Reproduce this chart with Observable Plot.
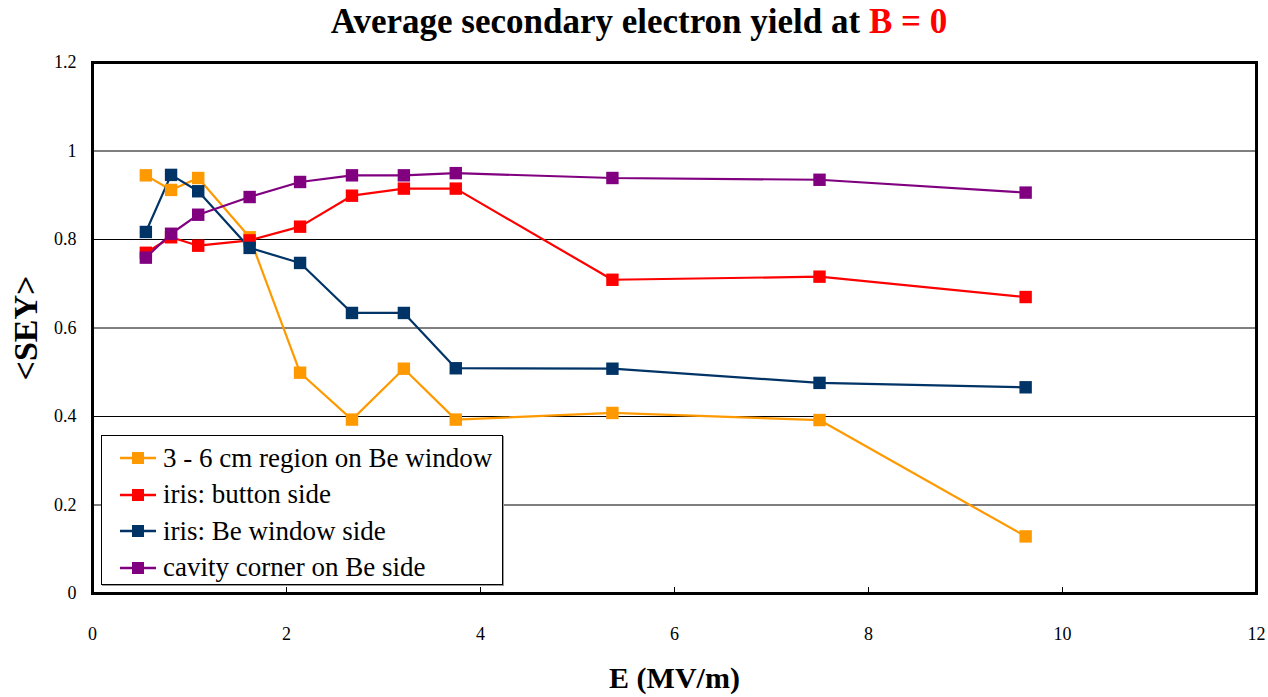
<!DOCTYPE html>
<html>
<head>
<meta charset="utf-8">
<script src="https://cdn.jsdelivr.net/npm/d3@7"></script>
<script src="https://cdn.jsdelivr.net/npm/@observablehq/plot@0.6"></script>
<style>
  html, body { margin: 0; padding: 0; background: #fff; }
  body { width: 1268px; height: 697px; position: relative; overflow: hidden; font-family: 'Liberation Serif', serif; }
  #title { position: absolute; left: 0; top: 1px; width: 1278px; text-align: center; font-family: 'Liberation Serif', serif; font-size: 35px; font-weight: bold; line-height: 42px; }
  #title .red { color: #ff0000; }
  #chart { position: absolute; left: 0; top: 45px; }
  #chart svg, #chart svg text { font-family: 'Liberation Serif', serif !important; }
  #chart [aria-label="y-axis label"] text { font-size: 34px; font-weight: bold; }
  #chart [aria-label="x-axis label"] text { font-size: 30px; font-weight: bold; }
  #legend { position: absolute; left: 101px; top: 435px; width: 400px; height: 148px; background: #fff; border: 1px solid #000; box-shadow: 1px 1px 0 #999; font-family: 'Liberation Serif', serif; }
  #legend .row { position: absolute; left: 0; height: 36px; display: flex; align-items: center; font-size: 27px; font-family: 'Liberation Serif', serif; white-space: nowrap; }
  #legend svg { margin-left: 18px; margin-right: 7px; }
</style>
</head>
<body>
<div id="title">Average secondary electron yield at <span class="red">B = 0</span></div>
<div id="chart"></div>
<div id="legend"></div>
<script>
const E = [0.55, 0.81, 1.09, 1.62, 2.14, 2.675, 3.21, 3.745, 5.36, 7.495, 9.62];
const region36 = [0.945, 0.912, 0.939, 0.805, 0.499, 0.393, 0.508, 0.393, 0.408, 0.392, 0.129];
const irisButton = [0.770, 0.805, 0.786, 0.798, 0.829, 0.899, 0.915, 0.915, 0.709, 0.716, 0.670];
const irisBe = [0.817, 0.946, 0.909, 0.781, 0.747, 0.634, 0.634, 0.509, 0.508, 0.476, 0.466];
const cavity = [0.759, 0.813, 0.856, 0.896, 0.930, 0.945, 0.945, 0.950, 0.939, 0.935, 0.906];
const seriesNames = ["3 - 6 cm region on Be window", "iris: button side", "iris: Be window side", "cavity corner on Be side"];
const seriesColors = ["#ff9900", "#ff0000", "#003366", "#800080"];
const xTicks = [0, 2, 4, 6, 8, 10, 12];
const yTicks = [0, 0.2, 0.4, 0.6, 0.8, 1, 1.2];

const allSeries = [region36, irisButton, irisBe, cavity];
const data = [];
allSeries.forEach((vals, si) => {
  vals.forEach((v, i) => data.push({series: seriesNames[si], E: E[i], sey: v}));
});

const chart = Plot.plot({
  width: 1268,
  height: 652,
  marginTop: 17,
  marginBottom: 104,
  marginLeft: 92,
  marginRight: 12,
  style: {fontSize: "18px", fontFamily: "'Liberation Serif', serif", color: "#000", background: "#fff"},
  x: {domain: [0, 12]},
  y: {domain: [0, 1.2]},
  color: {domain: seriesNames, range: seriesColors},
  marks: [
    Plot.gridY(yTicks.filter(t => t > 0 && t < 1.2), {stroke: "#000", strokeOpacity: 1, strokeWidth: 1}),
    Plot.axisY(yTicks, {tickSize: 0, tickPadding: 16, tickFormat: d => String(d), label: "<SEY>", labelAnchor: "center", labelOffset: 80, labelArrow: "none"}),
    Plot.axisX(xTicks, {tickSize: -6, tickPadding: 40, tickFormat: d => String(d), label: "E (MV/m)", labelAnchor: "center", labelOffset: 94, labelArrow: "none"}),
    Plot.line(data, {x: "E", y: "sey", z: "series", stroke: "series", strokeWidth: 2.2}),
    Plot.dot(data, {x: "E", y: "sey", fill: "series", symbol: "square", r: 7, stroke: "none"}),
    Plot.frame({stroke: "#000", strokeWidth: 3})
  ]
});
document.getElementById("chart").appendChild(chart);

const legend = document.getElementById("legend");
seriesNames.forEach((name, i) => {
  const row = document.createElement("div");
  row.className = "row";
  row.style.top = (4 + i * 36.5) + "px";
  row.innerHTML = `<svg width="36" height="14"><line x1="0" x2="36" y1="7" y2="7" stroke="${seriesColors[i]}" stroke-width="2.5"/><rect x="12" y="1" width="12" height="12" fill="${seriesColors[i]}"/></svg><span>${name}</span>`;
  legend.appendChild(row);
});
</script>
</body>
</html>
